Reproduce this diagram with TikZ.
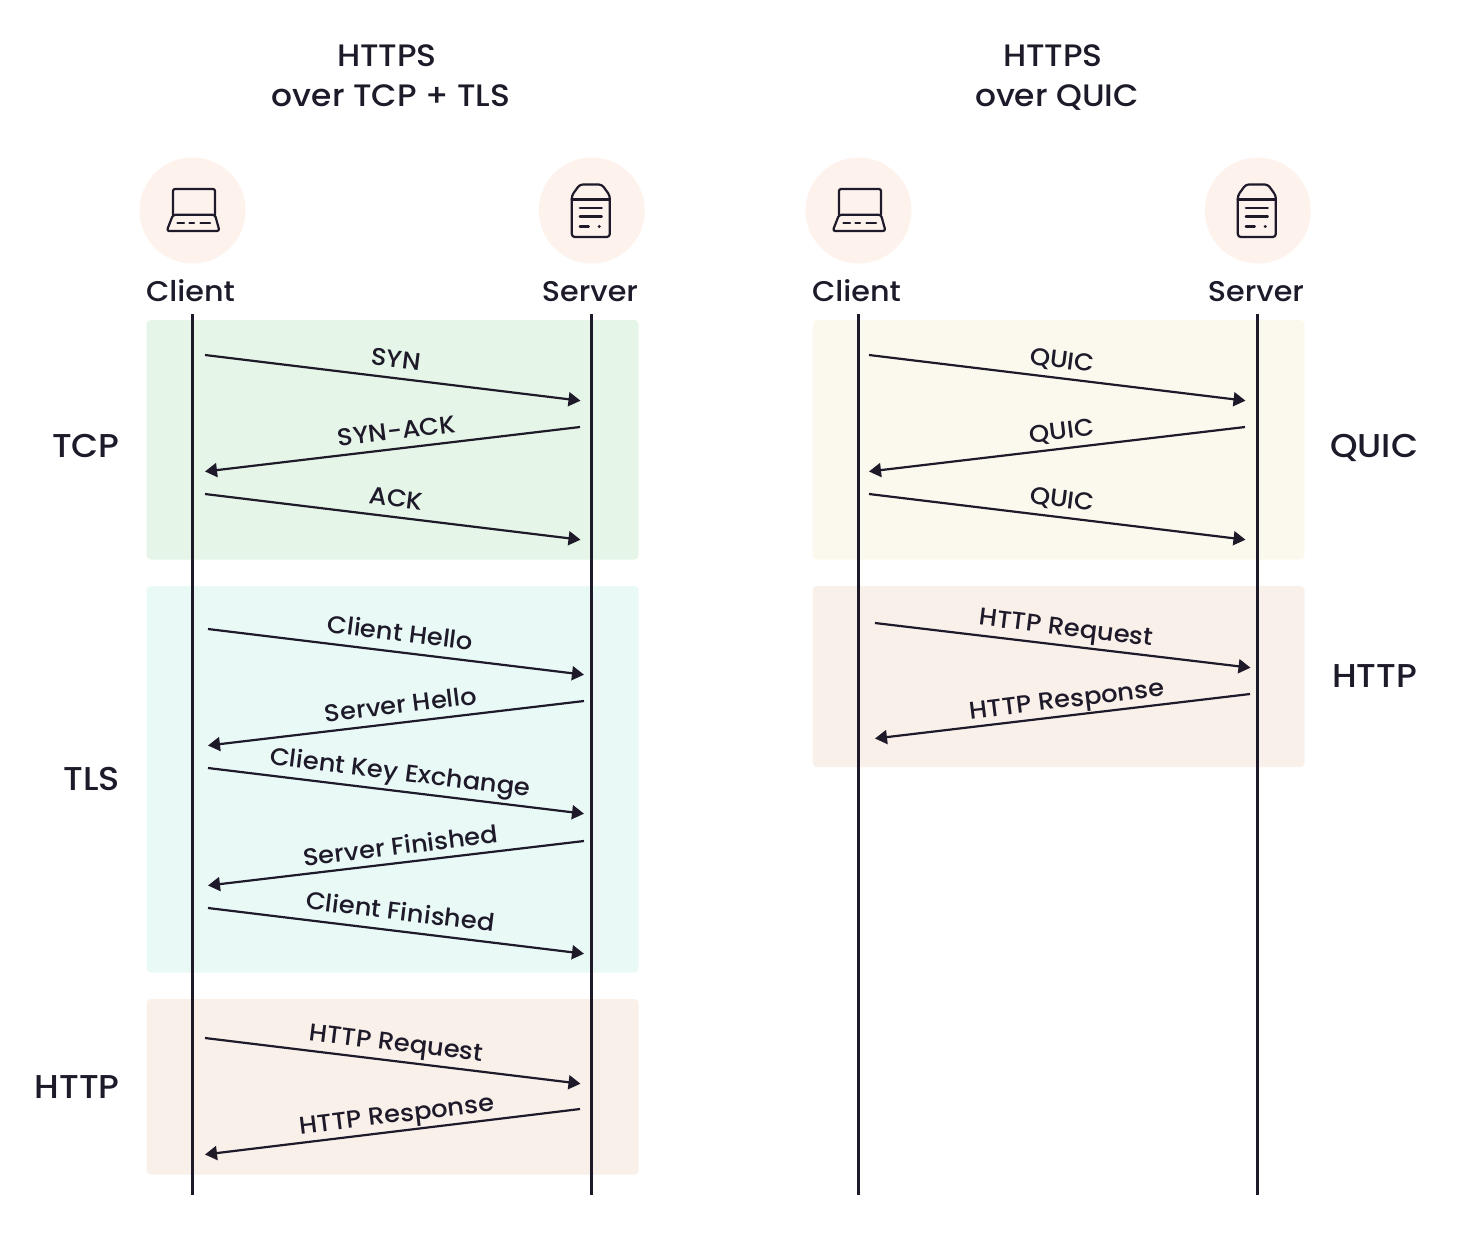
\documentclass[tikz,border=0pt]{standalone}
\usepackage{fontspec}
\setmainfont{Poppins Medium}[FakeStretch=1.06]
\usetikzlibrary{arrows.meta}
\definecolor{ink}{HTML}{1E1A2A}
\definecolor{tcpfill}{HTML}{E5F5E7}
\definecolor{tlsfill}{HTML}{E9F9F6}
\definecolor{httpfill}{HTML}{F9F0EA}
\definecolor{quicfill}{HTML}{FBF9EE}
\definecolor{circfill}{HTML}{FDF2EC}
\tikzset{
  band/.style={fill=#1,rounded corners=4pt,draw=none},
  lifeline/.style={draw=ink,line width=2.5pt},
  msgline/.style={draw=ink,line width=2.2pt,-{Triangle[length=12pt,width=14pt]}},
  msgtext/.style={text=ink,font=\fontsize{24.3}{24.3}\selectfont,inner sep=0pt,text height=18pt,text depth=5pt},
  title/.style={text=ink,font=\fontsize{31}{31}\selectfont,inner sep=0pt,text height=22pt,text depth=0pt},
  actor/.style={text=ink,font=\fontsize{28.5}{28.5}\selectfont,inner sep=0pt,text height=21pt,text depth=0pt},
  side/.style={text=ink,font=\fontsize{33}{33}\selectfont,inner sep=0pt,text height=23pt,text depth=0pt},
  disc/.style={circle,fill=circfill,minimum size=106pt,inner sep=0pt,draw=none},
  icon/.style={draw=ink,line width=2.2pt,line join=round,line cap=round},
  laptop/.pic={
    \draw[icon,rounded corners=2pt] (-19.5,4.5) -- (-19.5,-21.5) -- (22.5,-21.5) -- (22.5,4.5);
    \draw[icon,rounded corners=2.5pt] (-19.5,4.3) -- (22.5,4.3) -- (27,20.5) -- (-25.8,20.5) -- cycle;
    \draw[icon] (-15,12.5) -- (-8.5,12.5) (-3,12.5) -- (1.5,12.5) (8,12.5) -- (17.5,12.5);
  },
  serverbox/.pic={
    \draw[icon,rounded corners=3pt] (-20,-15) -- (-12,-26) -- (10,-26) -- (18,-15) -- (18,26.5) -- (-20,26.5) -- cycle;
    \draw[icon] (-20,-11) -- (18,-11);
    \draw[icon] (-12,-2.7) -- (10,-2.7) (-12,6) -- (10,6) (-12,16) -- (-3,16);
    \fill[ink] (7.5,16) circle (1.6pt);
  }
}
\newcommand{\msgarrow}[9]{%
  \coordinate (#1s) at (#2,#3);
  \coordinate (#1e) at (#4,#5);
  \draw[msgline] (#1s) -- (#1e);
  \node[msgtext,rotate=#9] (#1t) at (#6,#7) {#8};
}
\begin{document}
\begin{tikzpicture}[x=1pt,y=-1pt]
\useasboundingbox (0,0) rectangle (1466,1258);
% bands
\fill[band=tcpfill] (146.7,320) rectangle (638.5,559.5);
\fill[band=tlsfill] (146.7,586) rectangle (638.5,972.5);
\fill[band=httpfill] (146.7,999) rectangle (638.5,1174.5);
\fill[band=quicfill] (812.7,320) rectangle (1304.5,559.5);
\fill[band=httpfill] (812.7,586) rectangle (1304.5,767);
% titles
\node[title] (t1a) at (387,55) {HTTPS};
\node[title] (t1b) at (391,95) {over TCP + TLS};
\node[title] (t2a) at (1053,55) {HTTPS};
\node[title] (t2b) at (1057,95) {over QUIC};
% actors
\node[disc] (c1) at (192.5,210.5) {};
\node[disc] (s1) at (591.8,210.5) {};
\node[disc] (c2) at (858.5,210.5) {};
\node[disc] (s2) at (1257.8,210.5) {};
\pic at (c1) {laptop};
\pic at (c2) {laptop};
\pic at (s1) {serverbox};
\pic at (s2) {serverbox};
\node[actor] (cl1) at (190.5,291) {Client};
\node[actor] (sl1) at (590,291) {Server};
\node[actor] (cl2) at (856.5,291) {Client};
\node[actor] (sl2) at (1256,291) {Server};
% lifelines
\foreach \n/\x in {a/192.4,b/591.5,c/858.4,d/1257.5}{
  \coordinate (top\n) at (\x,314);
  \coordinate (bot\n) at (\x,1194.5);
  \draw[lifeline] (top\n) -- (bot\n);
}
% left messages
\msgarrow{m1}{205}{355}{580.5}{400.7}{396}{361}{SYN}{-7}
\msgarrow{m2}{580}{427}{205}{471.5}{397}{433}{SYN-ACK}{7}
\msgarrow{m3}{205}{494}{580.5}{539.7}{396}{500.5}{ACK}{-7}
\msgarrow{m4}{208}{629}{584}{674.7}{400}{635}{Client Hello}{-7}
\msgarrow{m5}{584}{701}{208}{745.5}{401}{707}{Server Hello}{7}
\msgarrow{m6}{208}{768}{584}{813.7}{400}{774}{Client Key Exchange}{-7}
\msgarrow{m7}{584}{841}{208}{885.5}{401}{848}{Server Finished}{7}
\msgarrow{m8}{208}{908}{584}{953.7}{400}{914}{Client Finished}{-7}
\msgarrow{m9}{205}{1038}{580.5}{1083.7}{396}{1044.5}{HTTP Request}{-7}
\msgarrow{m10}{580}{1109}{205}{1154.5}{397}{1116}{HTTP Response}{7}
% right messages
\msgarrow{n1}{869}{355}{1245.5}{400.7}{1062}{362}{QUIC}{-7}
\msgarrow{n2}{1245}{427}{869}{471.5}{1062}{433}{QUIC}{7}
\msgarrow{n3}{869}{494}{1245.5}{539.7}{1062}{501}{QUIC}{-7}
\msgarrow{n4}{875}{623}{1250.5}{667.7}{1066}{629}{HTTP Request}{-7}
\msgarrow{n5}{1250}{694}{875}{738.5}{1067}{701}{HTTP Response}{7}
% side labels
\node[side,anchor=east] (sTCP) at (120,446) {TCP};
\node[side,anchor=east] (sTLS) at (120,779) {TLS};
\node[side,anchor=east] (sHTTP) at (120,1087) {HTTP};
\node[side,anchor=west] (sQUIC) at (1330,446) {QUIC};
\node[side,anchor=west] (sHTTP2) at (1332,676) {HTTP};
\end{tikzpicture}
\end{document}
